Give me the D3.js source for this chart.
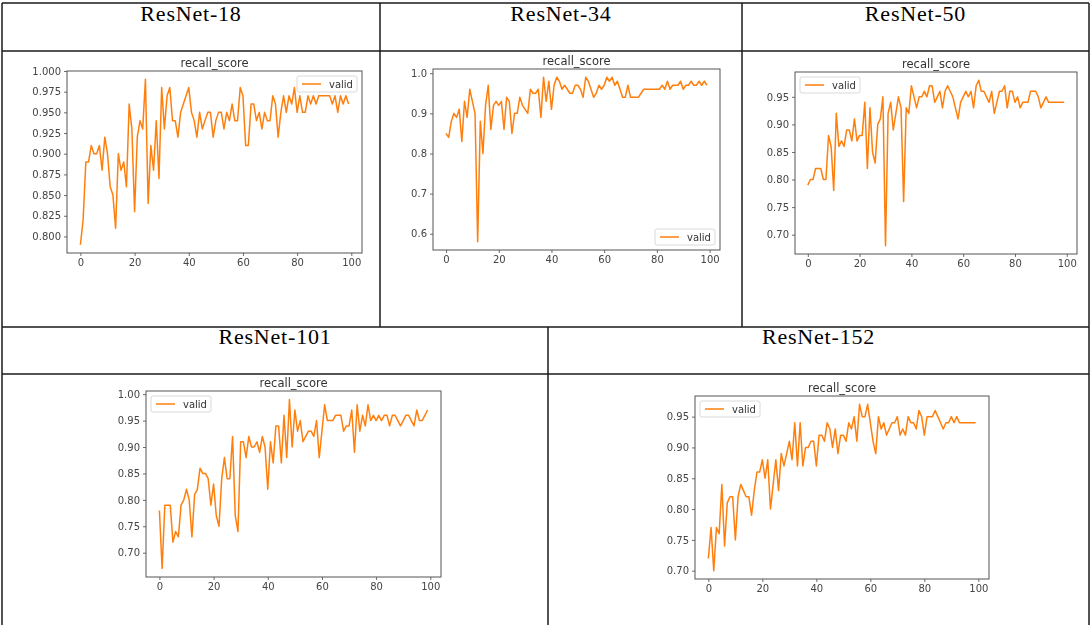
<!DOCTYPE html>
<html>
<head>
<meta charset="utf-8">
<script src="https://cdn.jsdelivr.net/npm/d3@7"></script>
<style>
  html, body { margin: 0; padding: 0; background: #fff; }
  svg { display: block; }
</style>
</head>
<body>
<svg id="chart" width="1091" height="625"></svg>
<script>
// Validation recall per epoch for each backbone
const modelNames = ["ResNet-18", "ResNet-34", "ResNet-50", "ResNet-101", "ResNet-152"];
const metricTitle = "recall_score";
const seriesLabel = "valid";

const resnet18 = [0.79,0.82,0.89,0.89,0.91,0.90,0.90,0.91,0.88,0.92,0.90,0.86,0.85,0.81,0.90,0.88,0.89,0.86,0.96,0.93,
  0.83,0.92,0.94,0.93,0.99,0.84,0.91,0.88,0.94,0.87,0.98,0.93,0.97,0.98,0.94,0.94,0.92,0.95,0.96,0.97,
  0.98,0.95,0.94,0.92,0.95,0.93,0.94,0.95,0.95,0.92,0.94,0.95,0.95,0.93,0.95,0.94,0.96,0.94,0.94,0.98,
  0.97,0.91,0.91,0.96,0.96,0.94,0.95,0.93,0.95,0.94,0.94,0.97,0.96,0.92,0.95,0.97,0.95,0.97,0.96,0.98,
  0.95,0.97,0.95,0.95,0.97,0.96,0.97,0.96,0.97,0.97,0.97,0.97,0.97,0.96,0.97,0.95,0.97,0.96,0.97,0.96];

const resnet34 = [0.85,0.84,0.88,0.90,0.89,0.91,0.83,0.93,0.89,0.96,0.93,0.90,0.58,0.88,0.80,0.92,0.97,0.86,0.92,0.93,
  0.92,0.93,0.86,0.94,0.93,0.85,0.90,0.90,0.94,0.92,0.91,0.90,0.96,0.95,0.95,0.96,0.89,0.99,0.93,0.98,
  0.91,0.97,0.99,0.98,0.96,0.97,0.96,0.95,0.95,0.97,0.97,0.96,0.94,0.99,0.98,0.96,0.94,0.95,0.97,0.96,
  0.97,0.99,0.98,0.99,0.97,0.98,0.96,0.94,0.94,0.97,0.94,0.94,0.94,0.94,0.95,0.96,0.96,0.96,0.96,0.96,
  0.96,0.96,0.97,0.96,0.98,0.96,0.97,0.97,0.97,0.98,0.96,0.97,0.97,0.98,0.97,0.97,0.98,0.97,0.98,0.97];

const resnet50 = [0.79,0.80,0.80,0.82,0.82,0.82,0.80,0.80,0.88,0.86,0.78,0.92,0.86,0.87,0.86,0.89,0.89,0.87,0.91,0.87,
  0.88,0.88,0.94,0.82,0.93,0.85,0.83,0.90,0.91,0.95,0.68,0.92,0.94,0.89,0.92,0.95,0.93,0.76,0.93,0.92,
  0.97,0.95,0.93,0.95,0.95,0.96,0.95,0.97,0.97,0.94,0.95,0.96,0.93,0.96,0.97,0.96,0.95,0.93,0.91,0.94,
  0.95,0.96,0.95,0.96,0.93,0.97,0.98,0.96,0.96,0.95,0.94,0.96,0.92,0.94,0.96,0.96,0.97,0.93,0.96,0.96,
  0.94,0.95,0.93,0.94,0.94,0.94,0.96,0.96,0.96,0.95,0.93,0.94,0.95,0.94,0.94,0.94,0.94,0.94,0.94,0.94];

const resnet101 = [0.78,0.67,0.79,0.79,0.79,0.72,0.74,0.73,0.79,0.80,0.82,0.80,0.73,0.81,0.82,0.86,0.85,0.85,0.84,0.79,
  0.83,0.77,0.75,0.84,0.88,0.84,0.84,0.92,0.77,0.74,0.91,0.91,0.88,0.92,0.90,0.90,0.91,0.89,0.92,0.90,
  0.82,0.91,0.87,0.94,0.94,0.87,0.96,0.88,0.99,0.90,0.97,0.93,0.95,0.91,0.92,0.93,0.93,0.92,0.95,0.88,
  0.93,0.98,0.95,0.95,0.95,0.96,0.96,0.96,0.93,0.94,0.94,0.97,0.89,0.98,0.93,0.96,0.94,0.98,0.95,0.96,
  0.95,0.96,0.95,0.96,0.96,0.94,0.96,0.96,0.95,0.94,0.95,0.96,0.96,0.95,0.94,0.97,0.95,0.95,0.96,0.97];

const resnet152 = [0.72,0.77,0.70,0.77,0.76,0.84,0.74,0.81,0.82,0.82,0.75,0.82,0.84,0.83,0.82,0.82,0.79,0.83,0.86,0.86,
  0.88,0.85,0.88,0.80,0.84,0.88,0.83,0.89,0.87,0.89,0.91,0.88,0.94,0.87,0.94,0.87,0.90,0.90,0.91,0.91,
  0.87,0.92,0.92,0.91,0.94,0.93,0.90,0.93,0.89,0.92,0.92,0.91,0.94,0.93,0.95,0.91,0.97,0.95,0.95,0.97,
  0.94,0.91,0.89,0.95,0.93,0.94,0.92,0.93,0.94,0.94,0.95,0.92,0.93,0.92,0.95,0.94,0.94,0.93,0.96,0.95,
  0.92,0.95,0.95,0.95,0.96,0.95,0.94,0.93,0.94,0.94,0.95,0.94,0.95,0.94,0.94,0.94,0.94,0.94,0.94,0.94];

const xTicks = [0, 20, 40, 60, 80, 100];
const yTicks18 = [0.800, 0.825, 0.850, 0.875, 0.900, 0.925, 0.950, 0.975, 1.000];
const yTicks34 = [0.6, 0.7, 0.8, 0.9, 1.0];
const yTicks50 = [0.70, 0.75, 0.80, 0.85, 0.90, 0.95];
const yTicks101 = [0.70, 0.75, 0.80, 0.85, 0.90, 0.95, 1.00];
const yTicks152 = [0.70, 0.75, 0.80, 0.85, 0.90, 0.95];

// Panel layout: plot frame box, tick format and legend corner
const panels = [
  { name: modelNames[0], values: resnet18, yTicks: yTicks18, fmt: ".3f", legend: "upper right",
    frame: { l: 67, t: 71, r: 362, b: 253 } },
  { name: modelNames[1], values: resnet34, yTicks: yTicks34, fmt: ".1f", legend: "lower right",
    frame: { l: 433, t: 69, r: 720, b: 250 } },
  { name: modelNames[2], values: resnet50, yTicks: yTicks50, fmt: ".2f", legend: "upper left",
    frame: { l: 795, t: 72, r: 1077, b: 254 } },
  { name: modelNames[3], values: resnet101, yTicks: yTicks101, fmt: ".2f", legend: "upper left",
    frame: { l: 146, t: 391, r: 441, b: 577 } },
  { name: modelNames[4], values: resnet152, yTicks: yTicks152, fmt: ".2f", legend: "upper left",
    frame: { l: 695, t: 396, r: 989, b: 579 } }
];

// Table cells holding the model name headers
const headerCells = [
  { x0: 2, x1: 380, y: 21 },
  { x0: 380, x1: 742, y: 21 },
  { x0: 742, x1: 1089, y: 21 },
  { x0: 2, x1: 548, y: 344 },
  { x0: 548, x1: 1089, y: 344 }
];

const svg = d3.select("#chart");
const orange = "#ff7f0e";
const tickFont = "'DejaVu Sans', sans-serif";

const defs = svg.append("defs");
defs.append("filter").attr("id", "soft")
  .attr("x", "-5%").attr("y", "-5%").attr("width", "110%").attr("height", "110%")
  .append("feGaussianBlur").attr("stdDeviation", 0.45);

// Table grid
const grid = svg.append("g").attr("stroke", "#1a1a1a").attr("stroke-width", 1.5).attr("fill", "none");
[[2, 3, 1089, 3], [2, 51, 1089, 51], [2, 327, 1089, 327], [2, 374, 1089, 374],
 [2, 3, 2, 625], [1089, 3, 1089, 625], [380, 3, 380, 327], [742, 3, 742, 327], [548, 327, 548, 625]]
  .forEach(([x1, y1, x2, y2]) => grid.append("line").attr("x1", x1).attr("y1", y1).attr("x2", x2).attr("y2", y2));

// Model name headers
svg.append("g").selectAll("text").data(headerCells).join("text")
  .attr("x", d => (d.x0 + d.x1) / 2)
  .attr("y", d => d.y)
  .attr("text-anchor", "middle")
  .attr("font-family", "'Liberation Serif', 'Times New Roman', serif")
  .attr("font-size", 22)
  .attr("letter-spacing", 0.8)
  .attr("fill", "#000")
  .text((d, i) => modelNames[i]);

panels.forEach(p => {
  const f = p.frame;
  const n = p.values.length;
  const xExt = [0, n - 1];
  const xPad = (xExt[1] - xExt[0]) * 0.05;
  const yExt = d3.extent(p.values);
  const yPad = (yExt[1] - yExt[0]) * 0.05;

  const x = d3.scaleLinear().domain([xExt[0] - xPad, xExt[1] + xPad]).range([f.l, f.r]);
  const y = d3.scaleLinear().domain([yExt[0] - yPad, yExt[1] + yPad]).range([f.b, f.t]);

  const g = svg.append("g").attr("filter", "url(#soft)");

  // Line
  const line = d3.line().x((d, i) => x(i)).y(d => y(d));
  g.append("path").datum(p.values)
    .attr("fill", "none").attr("stroke", orange).attr("stroke-width", 1.5)
    .attr("stroke-linejoin", "round")
    .attr("d", line);

  // Axes
  const xAxis = d3.axisBottom(x).tickValues(xTicks).tickSize(3).tickPadding(3).tickFormat(d3.format("d"));
  const yAxis = d3.axisLeft(y).tickValues(p.yTicks).tickSize(3).tickPadding(3).tickFormat(d3.format(p.fmt));

  const gx = g.append("g").attr("transform", `translate(0,${f.b})`).call(xAxis);
  const gy = g.append("g").attr("transform", `translate(${f.l},0)`).call(yAxis);
  [gx, gy].forEach(a => {
    a.select(".domain").remove();
    a.selectAll(".tick line").attr("stroke", "#444").attr("stroke-width", 0.8);
    a.selectAll(".tick text").attr("fill", "#444").attr("font-family", tickFont).attr("font-size", 10);
  });

  // Frame
  g.append("rect").attr("x", f.l).attr("y", f.t).attr("width", f.r - f.l).attr("height", f.b - f.t)
    .attr("fill", "none").attr("stroke", "#555").attr("stroke-width", 1);

  // Title
  g.append("text").attr("x", (f.l + f.r) / 2).attr("y", f.t - 4)
    .attr("text-anchor", "middle").attr("font-family", tickFont).attr("font-size", 11.5)
    .attr("fill", "#333").text(metricTitle);

  // Legend
  const lw = 60, lh = 16, off = 5;
  const lx = p.legend.includes("right") ? f.r - off - lw : f.l + off;
  const ly = p.legend.includes("upper") ? f.t + off : f.b - off - lh;
  const lg = g.append("g").attr("transform", `translate(${lx},${ly})`);
  lg.append("rect").attr("width", lw).attr("height", lh).attr("rx", 2)
    .attr("fill", "#fff").attr("fill-opacity", 0.8).attr("stroke", "#d0d0d0").attr("stroke-width", 0.8);
  lg.append("line").attr("x1", 5).attr("x2", 24).attr("y1", lh / 2).attr("y2", lh / 2)
    .attr("stroke", orange).attr("stroke-width", 1.5);
  lg.append("text").attr("x", 32).attr("y", lh / 2 + 3.5)
    .attr("font-family", tickFont).attr("font-size", 10).attr("fill", "#333").text(seriesLabel);
});
</script>
</body>
</html>
